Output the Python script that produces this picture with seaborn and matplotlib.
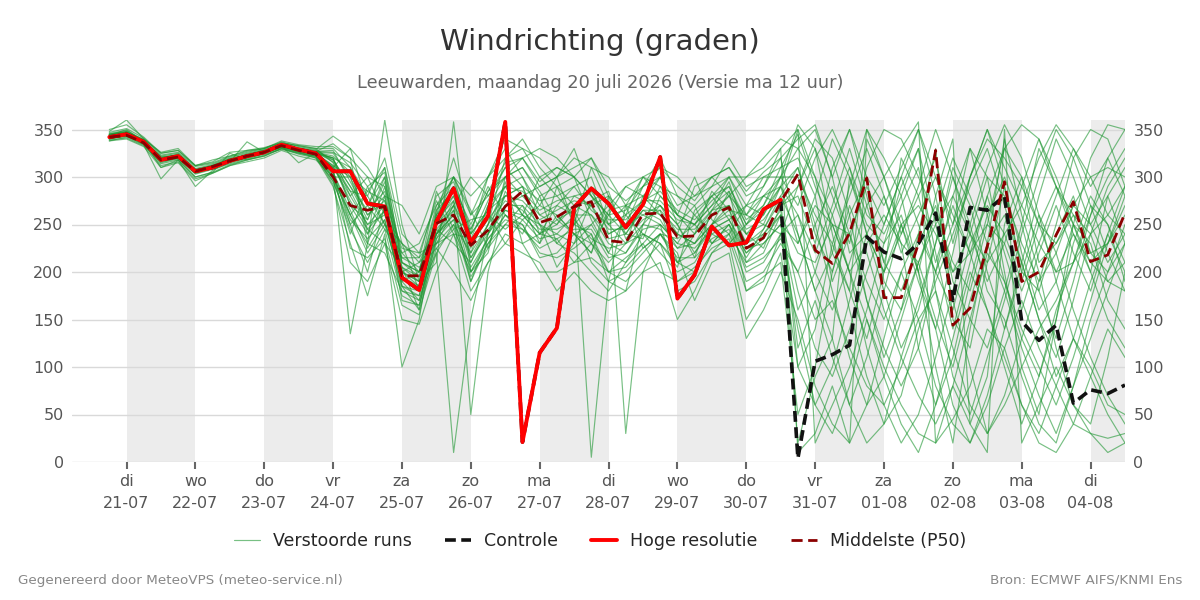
import matplotlib
matplotlib.use("Agg")
import matplotlib.pyplot as plt
from matplotlib.lines import Line2D
import pandas as pd
import seaborn as sns

# tijdas: 6-uurlijkse stappen vanaf 20-07 18:00
start = "2026-07-20 18:00"
n_stappen = 60
weekdag_afk = ["ma", "di", "wo", "do", "vr", "za", "zo"]

hoge_resolutie = [342, 345, 337, 318, 322, 306, 310, 317, 322, 326, 334, 329, 325,
                  306, 306, 272, 269, 194, 181, 253, 288, 231, 259, 358, 21, 115, 141,
                  268, 288, 272, 247, 271, 321, 172, 197, 248, 228, 231, 266, 276]
controle = hoge_resolutie + [4, 106, 113, 123, 237, 221, 214, 230, 262, 170,
                             268, 265, 280, 148, 128, 144, 62, 76, 72, 81]
middelste = [342, 344, 336, 318, 321, 306, 311, 317, 322, 326, 333, 328, 324,
             300, 270, 265, 269, 196, 196, 251, 260, 228, 244, 269, 285, 252, 258,
             269, 274, 233, 231, 261, 262, 237, 238, 260, 268, 225, 236, 274,
             303, 223, 209, 241, 299, 173, 173, 230, 328, 144, 162, 227, 295,
             190, 200, 239, 274, 211, 218, 262]

lid_01 = [345, 348, 338, 322, 325, 309, 313, 320, 325, 329, 335, 331, 328,
          318, 290, 255, 300, 210, 195, 240, 275, 215, 250, 290, 300, 260,
          250, 280, 270, 235, 240, 265, 255, 225, 240, 265, 270, 230, 245, 280,
          310, 240, 200, 260, 300, 190, 160, 240, 330, 150, 120, 210, 290, 200, 180, 240, 280, 220, 200, 250]
lid_02 = [340, 344, 335, 315, 320, 304, 309, 316, 320, 325, 331, 327, 322,
          300, 260, 230, 280, 185, 175, 255, 300, 240, 265, 280, 290, 240,
          270, 290, 300, 250, 230, 280, 270, 250, 220, 250, 285, 210, 220, 260,
          20, 90, 130, 300, 250, 230, 260, 200, 280, 340, 40, 90, 250, 300, 210, 230, 260, 240, 190, 210]
lid_03 = [348, 360, 340, 325, 328, 312, 315, 322, 327, 330, 336, 333, 330,
          330, 310, 280, 320, 240, 220, 275, 240, 200, 235, 260, 245, 230,
          290, 300, 255, 220, 260, 240, 230, 205, 265, 280, 255, 270, 300, 310,
          345, 290, 250, 200, 150, 100, 60, 30, 20, 45, 80, 140, 120, 60, 20, 10, 40, 30, 25, 30]
lid_04 = [338, 342, 334, 298, 318, 300, 305, 313, 318, 323, 330, 326, 320,
          290, 230, 175, 240, 100, 150, 260, 320, 260, 280, 310, 320, 290,
          300, 310, 320, 280, 260, 300, 290, 260, 250, 270, 300, 260, 280, 300,
          330, 350, 300, 220, 240, 200, 240, 280, 320, 230, 300, 340, 320, 290, 250, 230, 270, 300, 310, 300]
lid_05 = [344, 350, 337, 310, 318, 300, 305, 325, 318, 322, 330, 325, 322,
          310, 280, 300, 260, 200, 210, 230, 250, 190, 240, 270, 270, 250,
          240, 260, 210, 190, 200, 220, 240, 210, 200, 230, 240, 190, 200, 230,
          200, 150, 170, 120, 80, 60, 100, 150, 180, 120, 60, 30, 60, 100, 140, 170, 210, 240, 260, 290]
lid_06 = [341, 343, 338, 319, 324, 308, 312, 319, 321, 326, 334, 330, 327,
          335, 320, 230, 360, 250, 190, 210, 358, 200, 220, 300, 310, 280,
          230, 250, 240, 190, 180, 250, 270, 240, 230, 250, 260, 240, 260, 290,
          350, 300, 220, 180, 350, 320, 280, 200, 100, 20, 140, 230, 340, 260, 200, 120, 60, 40, 110, 200]
lid_07 = [346, 349, 339, 321, 323, 306, 311, 318, 324, 328, 333, 328, 324,
          305, 135, 230, 220, 180, 170, 235, 270, 240, 300, 330, 300, 270,
          260, 240, 250, 270, 290, 280, 300, 270, 280, 300, 310, 280, 290, 320,
          240, 180, 130, 60, 20, 40, 110, 170, 230, 300, 250, 180, 150, 90, 40, 20, 80, 150, 200, 230]
lid_08 = [339, 341, 333, 316, 319, 303, 308, 314, 319, 324, 329, 325, 321,
          295, 250, 270, 245, 220, 200, 250, 290, 230, 260, 245, 260, 300,
          280, 260, 290, 240, 250, 260, 250, 230, 260, 240, 230, 250, 280, 270,
          280, 230, 310, 350, 280, 210, 180, 230, 270, 200, 220, 250, 230, 180, 230, 280, 330, 300, 260, 240]
lid_09 = [343, 347, 336, 318, 322, 307, 310, 316, 337, 326, 332, 328, 324,
          312, 300, 260, 275, 195, 185, 245, 230, 210, 250, 320, 340, 310,
          290, 270, 260, 230, 220, 250, 290, 280, 270, 230, 250, 220, 240, 260,
          180, 120, 90, 140, 200, 250, 300, 350, 280, 190, 150, 120, 180, 250, 330, 290, 240, 200, 150, 120]
lid_10 = [342, 345, 336, 318, 321, 305, 310, 317, 322, 326, 333, 329, 325,
          320, 280, 250, 260, 230, 180, 220, 10, 150, 240, 280, 290, 250,
          230, 220, 200, 180, 210, 230, 250, 190, 200, 250, 270, 180, 190, 240,
          290, 340, 320, 260, 170, 120, 80, 120, 200, 280, 330, 260, 190, 130, 90, 150, 230, 280, 250, 210]
lid_11 = [347, 351, 341, 323, 326, 311, 314, 321, 326, 330, 337, 332, 329,
          343, 330, 310, 280, 270, 240, 290, 300, 280, 300, 320, 330, 300,
          310, 300, 280, 260, 290, 300, 310, 300, 280, 290, 300, 270, 260, 300,
          355, 330, 280, 230, 310, 350, 340, 300, 260, 210, 180, 250, 330, 355, 340, 290, 250, 320, 355, 350]
lid_12 = [340, 343, 335, 314, 318, 290, 307, 315, 320, 325, 331, 326, 322,
          292, 210, 190, 230, 150, 145, 200, 240, 180, 210, 240, 230, 200,
          200, 210, 230, 200, 190, 210, 230, 180, 190, 220, 230, 150, 180, 220,
          100, 60, 30, 80, 150, 90, 40, 10, 60, 130, 200, 160, 110, 60, 30, 80, 130, 100, 60, 50]
lid_13 = [344, 346, 340, 326, 330, 312, 318, 322, 328, 331, 336, 333, 330,
          315, 270, 240, 290, 205, 190, 260, 280, 225, 270, 300, 280, 290,
          300, 320, 310, 270, 250, 290, 320, 280, 260, 280, 290, 250, 270, 310,
          320, 280, 340, 300, 240, 180, 120, 160, 230, 310, 270, 200, 140, 210, 280, 340, 300, 250, 280, 310]
lid_14 = [341, 344, 336, 317, 320, 304, 309, 316, 321, 325, 332, 327, 323,
          298, 260, 220, 250, 190, 170, 230, 265, 200, 230, 260, 250, 215,
          220, 240, 230, 210, 230, 240, 220, 200, 210, 240, 250, 200, 210, 240,
          260, 200, 160, 210, 270, 300, 250, 190, 140, 220, 300, 350, 290, 220, 160, 190, 250, 230, 170, 140]
lid_15 = [345, 347, 338, 319, 322, 306, 311, 317, 322, 327, 333, 329, 326,
          325, 300, 285, 310, 210, 200, 270, 290, 250, 290, 260, 240, 280,
          290, 250, 310, 300, 270, 260, 270, 250, 270, 290, 320, 290, 300, 300,
          300, 260, 230, 280, 330, 280, 220, 260, 300, 260, 220, 280, 330, 300, 250, 200, 210, 260, 300, 330]
lid_16 = [343, 345, 337, 318, 322, 306, 310, 317, 322, 326, 333, 315, 325,
          305, 250, 200, 270, 170, 165, 240, 260, 190, 230, 250, 270, 230,
          260, 240, 220, 280, 30, 200, 240, 220, 170, 210, 220, 130, 160, 200,
          150, 80, 40, 20, 60, 130, 200, 150, 80, 40, 20, 70, 140, 200, 260, 220, 160, 110, 70, 40]
lid_17 = [342, 346, 337, 319, 321, 305, 310, 318, 322, 327, 332, 328, 325,
          310, 330, 270, 310, 230, 210, 250, 270, 300, 280, 300, 320, 330,
          320, 300, 280, 250, 270, 280, 260, 240, 290, 300, 280, 260, 290, 330,
          10, 30, 80, 20, 340, 300, 330, 358, 20, 80, 40, 10, 350, 20, 60, 100, 60, 30, 10, 20]
lid_18 = [340, 344, 334, 312, 316, 298, 304, 312, 316, 320, 328, 322, 318,
          300, 240, 290, 250, 215, 205, 225, 200, 170, 210, 230, 220, 210,
          180, 200, 180, 170, 180, 200, 210, 150, 180, 220, 240, 210, 230, 250,
          230, 270, 250, 200, 230, 260, 230, 210, 250, 280, 240, 210, 240, 270, 230, 200, 240, 210, 230, 260]
lid_19 = [344, 346, 336, 319, 322, 306, 311, 318, 323, 327, 333, 329, 325,
          320, 310, 240, 265, 185, 160, 220, 250, 220, 270, 290, 260, 240,
          250, 270, 5, 190, 270, 300, 280, 260, 240, 260, 280, 300, 310, 330,
          350, 20, 60, 100, 160, 230, 290, 330, 250, 170, 100, 30, 70, 130, 190, 250, 320, 350, 340, 290]
lid_20 = [345, 347, 338, 320, 324, 308, 312, 319, 323, 328, 334, 330, 327,
          328, 295, 260, 280, 200, 190, 255, 275, 50, 200, 270, 280, 260,
          270, 260, 260, 240, 250, 270, 260, 240, 230, 260, 270, 240, 250, 290,
          310, 250, 180, 110, 60, 90, 150, 210, 260, 320, 280, 230, 180, 120, 70, 30, 80, 130, 180, 230]
lid_21 = [341, 343, 336, 318, 321, 305, 311, 317, 322, 326, 332, 328, 324,
          302, 255, 235, 255, 180, 175, 245, 265, 210, 245, 265, 255, 235,
          240, 230, 250, 220, 210, 240, 230, 210, 220, 245, 255, 220, 235, 260,
          220, 210, 250, 240, 190, 150, 200, 240, 200, 160, 230, 270, 240, 190, 250, 290, 260, 220, 230, 270]
lid_22 = [350, 355, 342, 325, 328, 312, 316, 326, 328, 330, 338, 334, 332,
          332, 320, 300, 290, 220, 230, 270, 300, 260, 300, 340, 330, 320,
          300, 330, 280, 260, 240, 270, 300, 260, 250, 280, 300, 300, 320, 340,
          330, 300, 260, 200, 120, 60, 20, 50, 110, 180, 250, 310, 355, 320, 260, 190, 130, 90, 50, 20]
lid_23 = [343, 346, 337, 318, 323, 306, 311, 318, 322, 327, 333, 329, 326,
          316, 285, 250, 270, 200, 185, 250, 280, 230, 255, 280, 275, 255,
          265, 275, 270, 245, 245, 265, 265, 245, 245, 265, 280, 245, 255, 280,
          240, 180, 220, 290, 350, 300, 240, 290, 350, 300, 240, 190, 230, 290, 340, 300, 250, 210, 190, 180]
lid_24 = [342, 345, 336, 317, 321, 305, 310, 317, 321, 326, 332, 328, 324,
          308, 225, 215, 235, 165, 155, 235, 255, 195, 225, 250, 245, 225,
          235, 210, 215, 200, 215, 230, 200, 190, 205, 225, 235, 180, 195, 210,
          50, 100, 200, 270, 220, 160, 110, 70, 40, 80, 150, 220, 190, 140, 100, 60, 110, 170, 230, 280]
lid_25 = [344, 347, 338, 320, 322, 307, 311, 319, 323, 327, 333, 330, 326,
          322, 305, 270, 300, 190, 200, 265, 285, 235, 275, 310, 290, 275,
          280, 290, 265, 250, 260, 275, 285, 265, 255, 275, 290, 255, 270, 300,
          270, 320, 350, 310, 260, 240, 280, 330, 180, 90, 50, 110, 170, 240, 300, 350, 320, 270, 220, 180]
lid_26 = [338, 340, 332, 310, 315, 296, 304, 312, 318, 322, 330, 324, 320,
          296, 245, 210, 245, 175, 165, 225, 245, 205, 235, 255, 250, 220,
          215, 225, 240, 200, 205, 225, 240, 215, 215, 235, 245, 205, 215, 235,
          200, 250, 290, 240, 170, 110, 160, 210, 150, 100, 170, 230, 260, 210, 150, 90, 130, 190, 240, 200]
lid_27 = [345, 348, 339, 321, 323, 307, 312, 318, 324, 328, 334, 330, 327,
          326, 315, 290, 305, 215, 215, 280, 295, 245, 285, 315, 320, 295,
          310, 300, 320, 290, 275, 290, 310, 290, 275, 300, 310, 285, 305, 320,
          340, 355, 300, 350, 300, 270, 310, 350, 300, 250, 300, 350, 310, 270, 320, 355, 330, 290, 320, 350]
lid_28 = [343, 345, 337, 318, 322, 306, 310, 317, 322, 326, 333, 328, 325,
          312, 275, 245, 265, 200, 190, 240, 270, 220, 250, 275, 265, 245,
          245, 255, 235, 225, 230, 250, 245, 225, 230, 250, 265, 230, 240, 265,
          120, 170, 110, 60, 110, 180, 250, 200, 140, 60, 20, 60, 120, 170, 120, 80, 40, 90, 140, 110]
lid_29 = [344, 346, 337, 319, 322, 306, 311, 317, 323, 327, 333, 329, 325,
          318, 290, 265, 285, 205, 195, 260, 290, 240, 265, 290, 285, 265,
          275, 280, 285, 255, 255, 275, 275, 255, 250, 270, 285, 250, 265, 290,
          260, 220, 270, 330, 270, 210, 270, 310, 220, 140, 210, 280, 220, 160, 220, 270, 220, 180, 240, 290]
lid_30 = [342, 344, 336, 317, 321, 305, 310, 316, 321, 326, 332, 328, 324,
          305, 265, 225, 255, 185, 180, 240, 260, 215, 240, 265, 260, 240,
          235, 245, 245, 215, 220, 245, 250, 230, 225, 245, 255, 225, 230, 250,
          160, 200, 260, 310, 240, 200, 250, 270, 240, 200, 240, 300, 280, 230, 190, 220, 270, 250, 210, 240]
lid_31 = [343, 347, 337, 319, 322, 306, 311, 318, 322, 327, 333, 329, 325,
          310, 285, 280, 250, 230, 215, 240, 255, 245, 285, 300, 310, 285,
          255, 265, 230, 260, 265, 290, 300, 250, 215, 265, 295, 240, 225, 270,
          290, 330, 240, 160, 90, 40, 70, 140, 190, 240, 290, 330, 270, 210, 150, 110, 170, 240, 290, 320]
lid_32 = [341, 345, 336, 317, 321, 305, 310, 317, 321, 326, 332, 328, 324,
          300, 300, 245, 230, 205, 160, 265, 300, 265, 225, 285, 260, 250,
          205, 230, 275, 285, 235, 255, 265, 210, 240, 285, 265, 260, 250, 240,
          140, 60, 100, 170, 240, 280, 230, 120, 60, 110, 190, 260, 300, 250, 180, 130, 190, 260, 320, 280]
lid_33 = [344, 346, 337, 320, 323, 307, 312, 318, 323, 327, 334, 330, 326,
          320, 270, 255, 295, 210, 200, 285, 245, 255, 260, 230, 255, 270,
          300, 250, 270, 280, 240, 235, 280, 260, 300, 255, 240, 270, 280, 290,
          230, 280, 190, 240, 290, 250, 300, 250, 200, 250, 330, 300, 200, 100, 50, 150, 250, 200, 280, 230]
lid_34 = [342, 345, 336, 318, 321, 305, 310, 317, 322, 326, 333, 329, 325,
          305, 260, 285, 275, 225, 220, 230, 240, 235, 240, 295, 230, 240,
          255, 240, 220, 265, 270, 225, 240, 235, 250, 230, 250, 215, 245, 275,
          100, 140, 230, 180, 130, 200, 320, 280, 210, 270, 220, 160, 100, 40, 90, 160, 210, 270, 250, 190]

leden = [lid_01, lid_02, lid_03, lid_04, lid_05, lid_06, lid_07, lid_08, lid_09, lid_10,
         lid_11, lid_12, lid_13, lid_14, lid_15, lid_16, lid_17, lid_18, lid_19, lid_20,
         lid_21, lid_22, lid_23, lid_24, lid_25, lid_26, lid_27, lid_28, lid_29, lid_30,
         lid_31, lid_32, lid_33, lid_34]

tijden = pd.date_range(start, periods=n_stappen, freq="6h")

ens = pd.concat([pd.DataFrame({"tijd": tijden, "graden": l, "lid": i})
                 for i, l in enumerate(leden)], ignore_index=True)
df_ctrl = pd.DataFrame({"tijd": tijden[:len(controle)], "graden": controle})
df_hr = pd.DataFrame({"tijd": tijden[:len(hoge_resolutie)], "graden": hoge_resolutie})
df_p50 = pd.DataFrame({"tijd": tijden[:len(middelste)], "graden": middelste})

sns.set_theme(style="white")
plt.rcParams["font.family"] = ["DejaVu Sans"]

groen = "#1e9632"

fig = plt.figure(figsize=(12, 6), dpi=100)
ax = fig.add_axes([0.06, 0.23, 0.8775, 0.57])

x0 = pd.Timestamp("2026-07-20 05:00")
x1 = pd.Timestamp("2026-08-04 12:00")
dagen = pd.date_range("2026-07-21", "2026-08-04", freq="D")

# grijze banden om de dag
for d in dagen[::2]:
    ax.axvspan(d, min(d + pd.Timedelta(days=1), x1), color="#ececec", lw=0, zorder=0)

sns.lineplot(data=ens, x="tijd", y="graden", units="lid", estimator=None,
             color=groen, lw=0.85, alpha=0.6, legend=False, ax=ax, zorder=2)
sns.lineplot(data=df_ctrl, x="tijd", y="graden", color="#111111", lw=2.6,
             ls=(0, (3, 1.5)), ax=ax, zorder=3)
sns.lineplot(data=df_hr, x="tijd", y="graden", color="red", lw=2.8, ax=ax, zorder=4)
sns.lineplot(data=df_p50, x="tijd", y="graden", color="#8b0000", lw=2.0,
             ls=(0, (4, 2)), ax=ax, zorder=5)

ax.set_xlim(x0, x1)
ax.set_ylim(0, 360)
ax.set_yticks(range(0, 351, 50))
ax.set_xticks(dagen)
ax.set_xticklabels([f"{weekdag_afk[d.weekday()]}\n{d.strftime('%d-%m')}" for d in dagen],
                   linespacing=1.5)
ax.set_xlabel("")
ax.set_ylabel("")
ax.grid(axis="y", color="#d9d9d9", lw=1)
ax.grid(axis="x", visible=False)
for s in ax.spines.values():
    s.set_visible(False)
ax.tick_params(axis="x", length=5, width=1.5, color="#666666", labelcolor="#555555",
               labelsize=11.5, pad=4, bottom=True)
ax.tick_params(axis="y", length=0, labelcolor="#555555", labelsize=11.5,
               labelleft=True, labelright=True, pad=6)

fig.text(0.5, 0.93, "Windrichting (graden)", ha="center", va="center",
         fontsize=21, color="#333333")
fig.text(0.5, 0.862, "Leeuwarden, maandag 20 juli 2026 (Versie ma 12 uur)",
         ha="center", va="center", fontsize=12.8, color="#666666")

handles = [
    Line2D([], [], color=groen, lw=0.85, alpha=0.6),
    Line2D([], [], color="#111111", lw=2.6, ls=(0, (3, 1.5))),
    Line2D([], [], color="red", lw=2.8),
    Line2D([], [], color="#8b0000", lw=2.0, ls=(0, (4, 2))),
]
labels = ["Verstoorde runs", "Controle", "Hoge resolutie", "Middelste (P50)"]
fig.legend(handles, labels, loc="center", bbox_to_anchor=(0.5, 0.098), ncol=4,
           frameon=False, fontsize=12.5, handlelength=1.5, handletextpad=0.75,
           columnspacing=1.9)

fig.text(0.015, 0.033, "Gegenereerd door MeteoVPS (meteo-service.nl)",
         ha="left", va="center", fontsize=9.7, color="#888888")
fig.text(0.985, 0.033, "Bron: ECMWF AIFS/KNMI Ens",
         ha="right", va="center", fontsize=9.7, color="#888888")

fig.savefig("out.png", dpi=100)
